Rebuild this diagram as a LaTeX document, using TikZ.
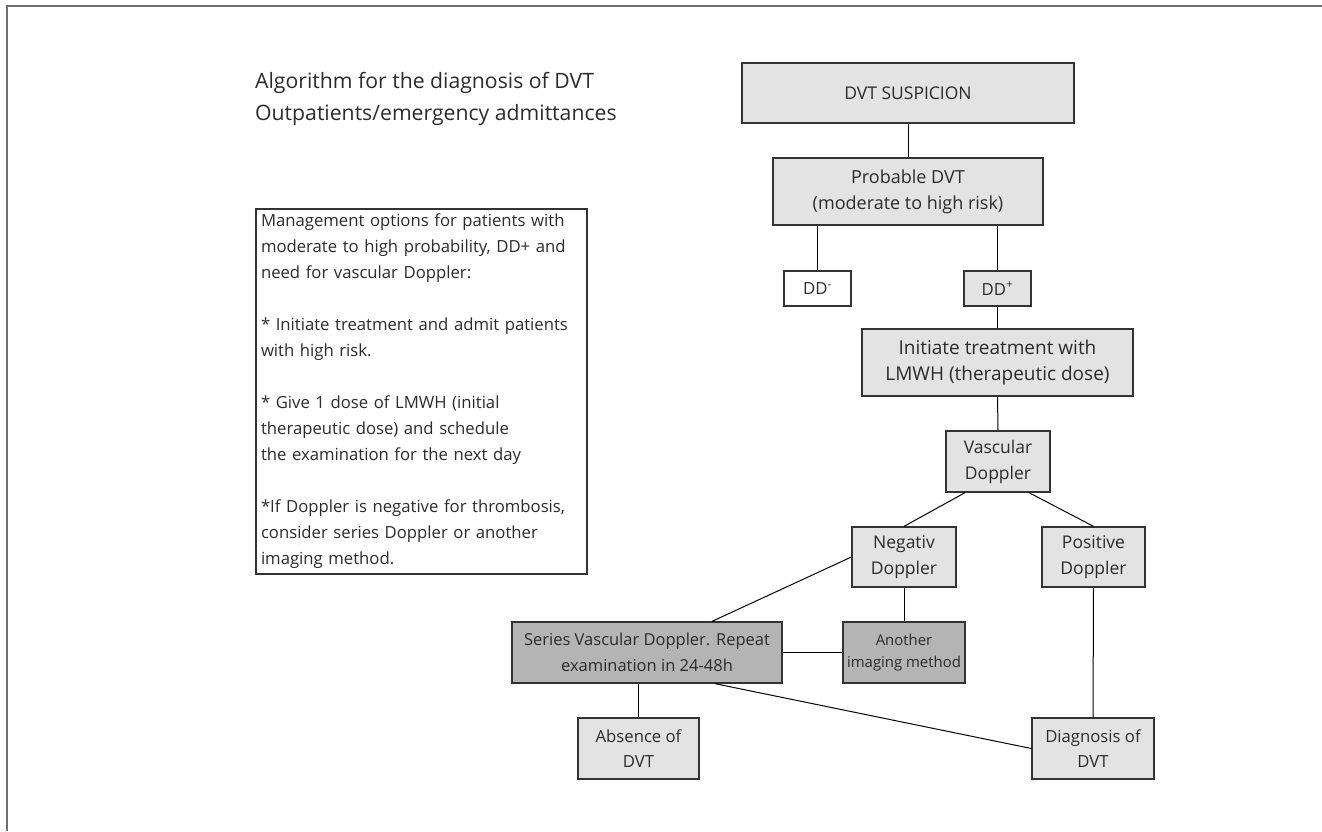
\documentclass[tikz,border=0pt]{standalone}
\usepackage{fontspec}
\setmainfont{Open Sans}
\definecolor{lightfill}{HTML}{E3E3E3}
\definecolor{darkfill}{HTML}{B4B4B4}
\definecolor{edge}{HTML}{333333}
\definecolor{txt}{HTML}{2B2B2B}
\definecolor{framecol}{HTML}{6E6E6E}
\begin{document}
\begin{tikzpicture}[x=1pt,y=-1pt,
  every node/.style={text=txt, font=\fontsize{16.7}{25}\selectfont},
  box/.style={draw=edge, line width=1.3pt, fill=lightfill, align=center, inner sep=0pt},
  whitebox/.style={box, fill=white},
  darkbox/.style={box, fill=darkfill},
  fs/.style={font=\fontsize{#1}{26}\selectfont},
  link/.style={draw=black, line width=1pt},
  framing/.style={draw=framecol, line width=2pt}
]
\useasboundingbox (0,0) rectangle (1322,831);
% page frame (top and left rules)
\draw[framing] (7,831) -- (7,6) -- (1322,6);

% title
\node[anchor=north west, inner sep=0pt, align=left, font=\fontsize{21.2}{32}\selectfont] (title) at (255,72)
  {Algorithm for the diagnosis of DVT\\Outpatients/emergency admittances};

% notes
\node[draw=edge, line width=1.3pt, fill=white, minimum width=331, minimum height=365,
      text width=321, inner sep=5pt, align=left, font=\fontsize{16.7}{26}\selectfont] (note) at (421.5,391.5)
  {Management options for patients with\\
   moderate to high probability, DD+ and\\
   need for vascular Doppler:\\[26pt]
   * Initiate treatment and admit patients\\
   with high risk.\\[26pt]
   * Give 1 dose of LMWH (initial\\
   therapeutic dose) and schedule\\
   the examination for the next day\\[26pt]
   *If Doppler is negative for thrombosis,\\
   consider series Doppler or another\\
   imaging method.};

% flow chart
\node[box, fs=17.5, minimum width=332, minimum height=60] (susp) at (908,93) {DVT SUSPICION};
\node[box, fs=18, minimum width=270, minimum height=67] (prob) at (908,191.5) {Probable DVT\\(moderate to high risk)};
\node[whitebox, minimum width=67, minimum height=35] (ddm) at (817.5,288.5) {DD\textsuperscript{-}};
\node[box, minimum width=67, minimum height=35] (ddp) at (997.5,288.5) {DD\textsuperscript{+}};
\node[box, fs=19, minimum width=271, minimum height=67] (init) at (997.5,362.5) {Initiate treatment with\\LMWH (therapeutic dose)};
\node[box, fs=17.5, minimum width=104, minimum height=61] (vasc) at (998,461.5) {Vascular\\Doppler};
\node[box, fs=17.5, minimum width=104, minimum height=60] (neg) at (904,557) {Negativ\\Doppler};
\node[box, fs=17.5, minimum width=103, minimum height=60] (pos) at (1093.5,557) {Positive\\Doppler};
\node[darkbox, fs=16.5, minimum width=270, minimum height=61] (series) at (647,652.5) {Series Vascular Doppler. Repeat\\examination in 24-48h};
\node[darkbox, minimum width=122, minimum height=61, font=\fontsize{14.9}{22}\selectfont] (other) at (904,652.5) {Another\\imaging method};
\node[box, minimum width=121, minimum height=61] (absent) at (638.5,748.5) {Absence of\\DVT};
\node[box, minimum width=122, minimum height=61] (diag) at (1093,748.5) {Diagnosis of\\DVT};

% connectors
\draw[link] (susp.south) -- (prob.north);
\draw[link] (ddm.north |- prob.south) -- (ddm.north);
\draw[link] (ddp.north |- prob.south) -- (ddp.north);
\draw[link] (ddp.south) -- (init.north);
\draw[link] (init.south) -- (vasc.north);
\draw[link] ([xshift=-33pt]vasc.south) -- (neg.north);
\draw[link] ([xshift=31pt]vasc.south) -- (pos.north);
\draw[link] (neg.west) -- ([xshift=65pt]series.north);
\draw[link] (neg.south) -- (other.north);
\draw[link] (series.east) -- (other.west);
\draw[link] (absent.north |- series.south) -- (absent.north);
\draw[link] ([xshift=68pt]series.south) -- (diag.west);
\draw[link] (pos.south) -- (diag.north);
\end{tikzpicture}
\end{document}
